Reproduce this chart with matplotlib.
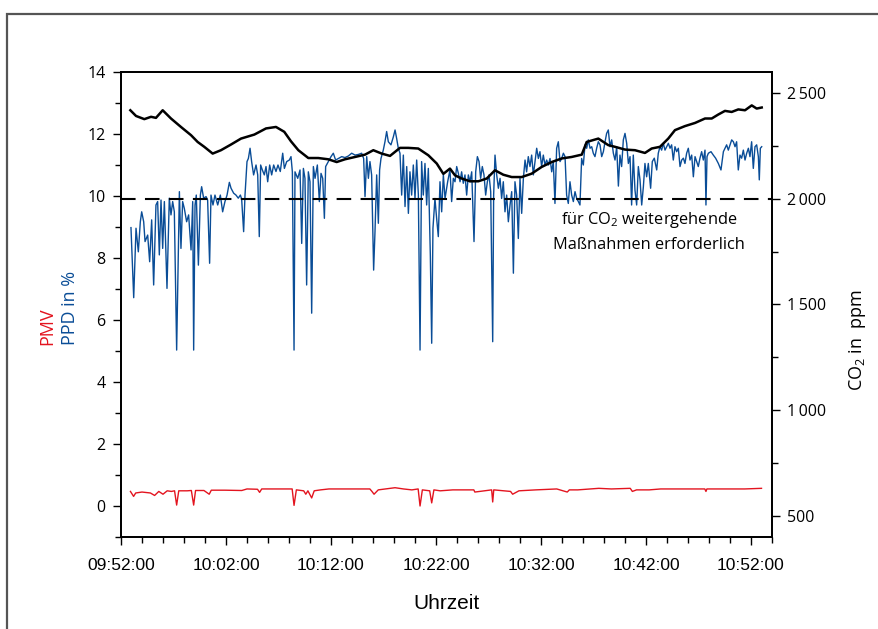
import matplotlib
matplotlib.use("Agg")
import matplotlib.pyplot as plt
from matplotlib.patches import Rectangle
from matplotlib.ticker import MultipleLocator

# minutes after 09:52:00
tick_labels = ["09:52:00", "10:02:00", "10:12:00", "10:22:00", "10:32:00", "10:42:00", "10:52:00"]

# PPD in %
ppd_min = [0.95, 1.21, 1.43, 1.65, 1.84, 1.97, 2.16, 2.29, 2.54, 2.73, 2.92, 3.11, 3.33, 3.49, 3.65, 3.81,
           3.97, 4.13, 4.38, 4.60, 4.76, 4.92, 5.08, 5.30, 5.56, 5.71, 5.87, 6.03, 6.25, 6.44, 6.67, 6.83,
           6.92, 7.05, 7.17, 7.37, 7.56, 7.68, 7.87, 8.10, 8.25, 8.44, 8.57, 8.76, 8.95, 9.21, 9.46, 9.68,
           9.90, 10.10, 10.32, 10.48, 10.73, 10.95, 11.17, 11.37, 11.49, 11.68, 11.81, 12.00, 12.13, 12.29,
           12.44, 12.63, 12.86, 13.02, 13.17, 13.30, 13.46, 13.65, 13.81, 13.97, 14.16, 14.35, 14.54, 14.76,
           14.95, 15.17, 15.40, 15.56, 15.78, 16.03,
           16.19, 16.32, 16.48, 16.57, 16.83, 17.05, 17.21, 17.37, 17.52, 17.68, 17.84, 18.00, 18.16, 18.32,
           18.48, 18.70, 18.89, 19.05, 19.21, 19.37, 19.49, 19.75, 20.00, 20.22, 20.44, 20.70, 21.02, 21.33,
           21.65, 21.97, 22.29, 22.60, 22.92, 23.11, 23.24, 23.40, 23.56, 23.71, 23.87, 24.06, 24.19, 24.35,
           24.51, 24.63, 24.76, 24.98, 25.14, 25.30, 25.46, 25.71, 25.94, 26.10, 26.25, 26.41, 26.57, 26.73,
           26.89, 27.05, 27.21, 27.37, 27.52, 27.68, 27.84, 28.00, 28.16, 28.32, 28.48, 28.63, 28.79, 28.95,
           29.11, 29.27, 29.46, 29.59, 29.71, 29.90, 30.06, 30.22, 30.38, 30.54, 30.70,
           30.86, 31.11, 31.33, 31.49, 31.65, 31.81, 31.97, 32.13, 32.29, 32.44, 32.60, 32.76, 32.92, 33.08,
           33.24, 33.40, 33.62, 33.78, 33.94, 34.10, 34.25, 34.41, 34.57, 34.73, 34.89, 35.05, 35.21, 35.40,
           35.49, 35.62, 35.78, 35.94, 36.10, 36.25, 36.41, 36.57, 36.73, 36.89, 37.05, 37.21, 37.37, 37.52,
           37.68, 37.84, 38.00, 38.16, 38.32, 38.48, 38.63, 38.79, 38.95, 39.11, 39.27, 39.43, 39.59, 39.75,
           39.90, 40.06, 40.22, 40.38, 40.54, 40.70, 40.86, 41.02, 41.17, 41.33, 41.49, 41.65, 41.81, 41.97,
           42.13, 42.29, 42.44, 42.60, 42.76, 42.92, 43.08, 43.24, 43.40, 43.56, 43.71, 43.87, 44.03, 44.19,
           44.35, 44.51, 44.67, 44.83, 44.98, 45.14, 45.30, 45.46, 45.62, 45.78, 45.94, 46.10, 46.25, 46.41,
           46.57, 46.73, 46.89, 47.05, 47.21, 47.37, 47.52, 47.68, 47.84, 48.00, 48.16, 48.32, 48.48, 48.63,
           48.79, 48.95, 49.11, 49.27, 49.43, 49.59, 49.75, 49.90, 50.06, 50.22, 50.44, 50.60, 50.79, 51.02,
           51.17, 51.33, 51.49, 51.65, 51.81, 51.97, 52.13, 52.29, 52.44, 52.60, 52.76, 52.92, 53.08, 53.24,
           53.40, 53.56, 53.71, 53.87, 54.03, 54.19, 54.35, 54.51, 54.67, 54.83, 54.98, 55.14, 55.30, 55.46,
           55.62, 55.71, 55.81, 55.94, 56.19, 56.41, 56.63, 56.89, 57.14, 57.37, 57.52, 57.68, 57.84, 58.00,
           58.16, 58.32, 58.48, 58.63, 58.79, 58.95, 59.11, 59.27, 59.43, 59.59, 59.75, 59.90, 60.06, 60.22,
           60.38, 60.54, 60.70, 60.79, 60.89, 61.02]
ppd_pct = [8.98, 6.72, 8.96, 8.20, 9.17, 9.49, 9.17, 8.53, 8.74, 7.88, 9.23, 7.13, 9.71, 9.82, 8.10, 9.87,
           8.31, 9.82, 7.02, 9.93, 9.39, 9.82, 9.49, 5.03, 10.14, 8.31, 9.82, 9.60, 9.17, 9.39, 8.26, 9.82,
           5.03, 9.71, 10.03, 7.77, 10.03, 10.30, 9.93, 9.98, 9.87, 7.83, 10.03, 9.71, 10.03, 9.71, 10.03, 9.49,
           9.82, 10.03, 10.44, 10.25, 10.09, 10.03, 9.93, 10.03, 9.90, 8.85, 10.03, 11.11, 11.21, 11.54,
           11.11, 10.68, 11.00, 10.68, 8.69, 11.00, 10.84, 10.68, 10.95, 10.46, 11.00, 10.68, 11.00, 10.79,
           11.00, 10.79, 11.38, 10.89, 11.11, 11.16,
           11.27, 10.78, 5.03, 10.78, 10.57, 10.84, 8.47, 10.89, 10.57, 7.13, 10.78, 10.46, 6.22, 10.95,
           10.57, 11.00, 9.82, 10.73, 10.57, 9.28, 10.95, 11.11, 11.27, 11.38, 11.16, 11.21, 11.27, 11.24,
           11.29, 11.38, 11.32, 11.34, 11.38, 11.21, 9.98, 11.27, 10.57, 11.11, 10.68, 7.61, 8.85, 10.68,
           9.12, 10.84, 11.21, 11.48, 11.75, 12.08, 11.75, 11.65, 11.91, 12.13, 11.86, 11.54, 11.38, 10.03,
           11.32, 9.66, 10.95, 9.44, 10.78, 10.03, 11.00, 9.92, 11.16, 10.03, 5.03, 11.11, 10.03, 11.05,
           9.71, 10.89, 8.10, 5.25, 8.96, 9.92, 9.28, 8.69, 10.46, 9.49, 10.68,
           9.92, 10.46, 10.84, 9.82, 10.57, 10.46, 10.95, 10.73, 10.46, 10.78, 10.41, 10.68, 10.03, 10.68,
           10.46, 10.78, 8.53, 10.78, 11.27, 11.11, 10.57, 10.95, 10.68, 10.03, 10.46, 10.68, 10.14, 5.30,
           10.03, 11.32, 10.68, 10.25, 10.57, 9.92, 10.46, 9.49, 10.03, 9.17, 9.71, 10.14, 7.51, 10.46,
           10.03, 8.63, 10.57, 9.44, 10.57, 11.16, 10.78, 11.27, 10.95, 11.32, 10.68, 11.11, 11.54, 11.21,
           11.43, 10.95, 11.32, 11.00, 11.16, 11.00, 11.21, 10.78, 11.11, 9.76, 11.54, 11.75, 11.11, 11.21,
           11.38, 11.27, 10.03, 9.76, 10.46, 10.03, 9.82, 10.14, 9.92, 9.82, 9.71, 11.21, 11.00, 11.65,
           11.54, 11.81, 11.54, 11.59, 11.38, 11.27, 11.54, 11.75, 11.65, 11.27, 11.43, 11.75, 12.02, 12.13,
           11.59, 11.81, 11.38, 11.16, 11.59, 10.32, 11.32, 10.95, 11.81, 12.02, 11.70, 11.05, 11.27, 9.71,
           11.32, 10.19, 9.71, 10.95, 10.52, 9.71, 10.30, 11.05, 10.62, 11.05, 10.25, 11.11, 11.22, 10.84,
           11.38, 11.59, 11.48, 11.70, 11.48, 11.59, 11.70, 11.54, 11.65, 11.16, 11.59, 11.43, 11.54, 10.95,
           11.16, 11.22, 11.05, 11.38, 11.54, 11.16, 11.32, 10.62, 11.27, 11.11, 10.95, 11.22, 11.43, 11.16,
           11.48, 9.71, 11.27, 11.38, 11.43, 11.32, 11.22, 11.05, 10.84, 11.43, 11.54, 11.65, 11.48, 11.65,
           11.81, 11.75, 11.59, 11.75, 10.84, 11.32, 11.22, 11.48, 11.16, 11.38, 11.54, 11.27, 11.75, 10.89,
           11.59, 11.65, 11.27, 10.52, 11.54, 11.59]

# PMV
pmv_min = [0.9, 1.2, 1.4, 2.0, 2.8, 3.2, 3.6, 4.0, 4.4, 4.8, 5.1, 5.3, 5.5, 6.3, 6.7, 6.92, 7.1, 7.9, 8.4, 8.6,
           9.9, 11.5, 12.0, 13.0, 13.2, 13.4, 15.0, 16.3, 16.48, 16.7, 17.4, 17.6, 17.8, 18.16, 18.4, 19.0,
           19.8, 21.8, 23.7, 23.9, 24.1, 24.5, 26.1, 26.9, 27.7, 28.3, 28.48, 28.7, 29.4, 29.59, 29.8, 30.4,
           31.6, 33.6, 33.7, 35.3, 35.4, 35.5, 37.1, 37.3, 37.9, 39.5, 41.5, 42.5, 42.7, 43.5, 45.5, 46.7,
           48.5, 48.7, 49.1, 50.3, 51.4, 53.4, 55.6, 55.71, 55.8, 57.4, 59.4, 61.0]
pmv_val = [0.47, 0.31, 0.42, 0.45, 0.42, 0.34, 0.47, 0.38, 0.49, 0.47, 0.49, 0.03, 0.49, 0.49, 0.50, 0.03,
           0.50, 0.50, 0.38, 0.51, 0.51, 0.50, 0.55, 0.54, 0.44, 0.55, 0.55, 0.55, 0.02, 0.52, 0.49, 0.38,
           0.49, 0.26, 0.49, 0.52, 0.55, 0.55, 0.55, 0.47, 0.38, 0.52, 0.59, 0.55, 0.52, 0.55, 0.0, 0.52,
           0.49, 0.10, 0.52, 0.49, 0.52, 0.52, 0.45, 0.52, 0.13, 0.52, 0.47, 0.38, 0.49, 0.52, 0.55, 0.45,
           0.52, 0.52, 0.57, 0.55, 0.57, 0.47, 0.52, 0.52, 0.55, 0.55, 0.55, 0.47, 0.55, 0.55, 0.55, 0.57]

# CO2 in ppm
co2_min = [0.89, 1.43, 2.22, 2.86, 3.33, 3.97, 4.76, 5.71, 6.67, 7.30, 7.93, 8.73, 9.52, 10.48, 11.43, 12.70,
           13.81, 14.76, 15.55, 16.19, 16.89, 17.84, 18.79, 19.74, 20.54, 21.33, 22.29, 23.24, 24.03, 24.83,
           25.62, 26.57, 27.36, 28.31, 29.27, 30.07, 30.70, 31.33, 31.81, 32.45, 33.24, 34.03, 34.83, 35.62,
           36.41, 37.21, 38.16, 39.11, 40.07, 41.02, 41.97, 42.92, 43.88, 44.35, 45.46, 46.41, 47.05, 48.0,
           48.95, 49.90, 50.54, 51.33, 52.12, 52.76, 53.71, 54.67, 55.62, 56.26, 56.89, 57.52, 58.16, 58.79,
           59.43, 60.07, 60.54, 61.02]
co2_ppm = [2419, 2392, 2377, 2388, 2383, 2419, 2380, 2340, 2301, 2269, 2246, 2214, 2230, 2257, 2285, 2304,
           2333, 2340, 2317, 2272, 2230, 2193, 2193, 2187, 2174, 2187, 2198, 2209, 2230, 2214, 2203, 2241,
           2241, 2238, 2206, 2167, 2118, 2143, 2111, 2096, 2083, 2083, 2096, 2135, 2114, 2103, 2103, 2119,
           2151, 2174, 2191, 2198, 2209, 2269, 2285, 2254, 2246, 2233, 2230, 2217, 2238, 2246, 2285, 2325,
           2344, 2359, 2380, 2380, 2399, 2416, 2411, 2423, 2419, 2442, 2427, 2432]

co2_limit = 2000

blue = '#0a4d97'
red = '#e3141f'
hum = ['Open Sans', 'DejaVu Sans']
narrow = ['Liberation Sans', 'DejaVu Sans']

plt.rcParams['mathtext.fontset'] = 'custom'
plt.rcParams['mathtext.rm'] = 'Open Sans'
plt.rcParams['mathtext.it'] = 'Open Sans:italic'
plt.rcParams['mathtext.bf'] = 'Open Sans:bold'

fig = plt.figure(figsize=(8.79, 6.29), dpi=100)
ax = fig.add_axes([121/879, 1-537/629, 651/879, 465/629])
ax2 = ax.twinx()

ax.plot(pmv_min, pmv_val, color=red, lw=1)
ax.plot(ppd_min, ppd_pct, color=blue, lw=1)
ax2.plot(co2_min, co2_ppm, color='black', lw=1.8)
ax2.axhline(co2_limit, color='black', lw=1.5, dashes=(7, 4.5))

ax.set_xlim(0, 62)
ax.set_ylim(-1, 14)
ax2.set_ylim(400, 2600)

ax.set_xticks(range(0, 61, 10))
ax.set_xticklabels(tick_labels, family=narrow, fontsize=12.5)
ax.xaxis.set_minor_locator(MultipleLocator(2))
ax.set_yticks(range(0, 15, 2))
ax.set_yticklabels([str(v) for v in range(0, 15, 2)], family=hum, fontsize=11.5)
ax.yaxis.set_minor_locator(MultipleLocator(1))
r_ticks = [500, 1000, 1500, 2000, 2500]
ax2.set_yticks(r_ticks)
ax2.set_yticklabels(['500', '1\u2009000', '1\u2009500', '2\u2009000', '2\u2009500'], family=hum, fontsize=11.5)
ax2.yaxis.set_minor_locator(MultipleLocator(250))

for a in (ax, ax2):
    a.tick_params(which='major', direction='out', length=6, width=1, pad=5)
    a.tick_params(which='minor', direction='out', length=4, width=1)
    for s in a.spines.values():
        s.set_linewidth(1.3)
ax.tick_params(axis='x', which='major', pad=9)

ax.text(0.5, -0.142, 'Uhrzeit', transform=ax.transAxes, ha='center', va='center',
        family=narrow, fontsize=15)
fig.text(47/879, 1-345/629, 'PMV', color=red, rotation=90, ha='center', va='bottom',
         family=hum, fontsize=13)
fig.text(70/879, 1-345/629, 'PPD in %', color=blue, rotation=90, ha='center', va='bottom',
         family=hum, fontsize=13)
fig.text(858/879, 1-340/629, 'CO$_2$ in  ppm', rotation=90, ha='center', va='center',
         family=hum, fontsize=13)
ax2.text(50.3, 1845, 'für CO$_2$ weitergehende\nMaßnahmen erforderlich',
         ha='center', va='center', family=hum, fontsize=11.8, linespacing=1.6)

fig.add_artist(Rectangle((7/879, -0.1), 1.1, 1.1 - 14/629, transform=fig.transFigure,
                         fill=False, edgecolor='#555555', lw=1.6))

fig.savefig('out.png', dpi=100)
